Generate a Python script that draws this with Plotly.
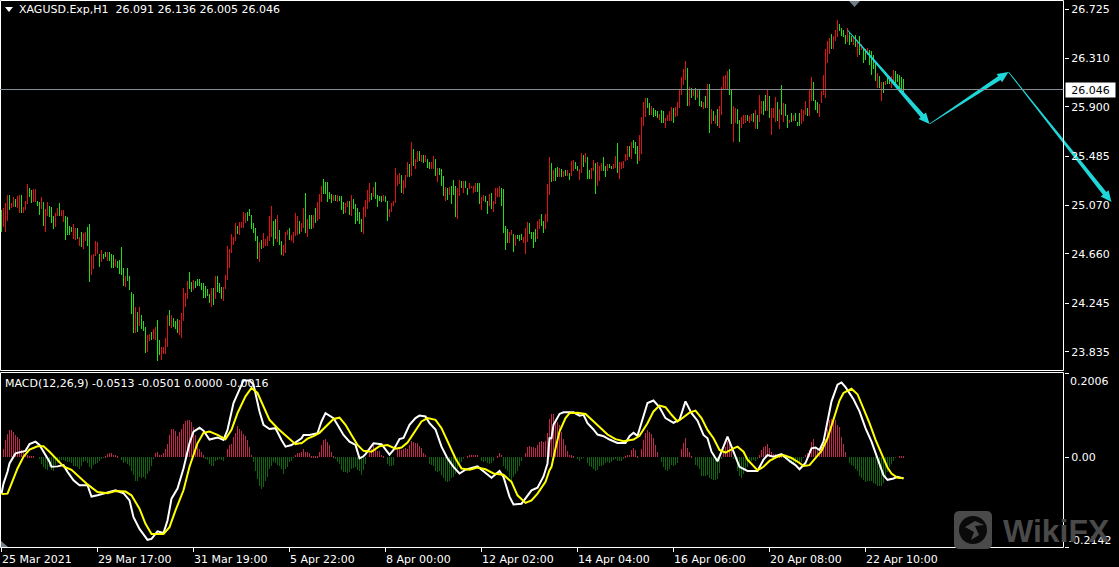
import numpy as np
import plotly.graph_objects as go

W, H = 1119, 567

# ---------- price bars (XAGUSD H1) ----------
HIGH = [
 25.02,25.04,25.08,25.15,25.15,25.08,25.13,25.12,25.14,25.15,25.15,25.05,25.10,25.24,25.21,25.19,25.20,25.20,25.10,25.09,25.13,25.09,25.03,25.09,25.06,25.05,24.97,25.00,25.04,25.08,25.02,25.02,24.97,24.96,24.89,24.88,24.90,24.87,24.87,24.79,24.84,24.83,24.84,24.88,24.90,24.64,24.65,24.76,24.75,24.65,24.68,24.65,24.67,24.67,24.67,24.65,24.64,24.61,24.59,24.60,24.71,24.53,24.46,24.53,24.46,
 24.33,24.31,24.20,24.16,24.20,24.13,24.08,24.03,23.96,23.97,23.99,24.01,24.03,24.09,23.92,23.86,23.86,23.94,24.13,24.17,24.13,24.11,24.08,24.10,24.09,24.15,24.36,24.32,24.42,24.50,24.41,24.43,24.42,24.44,24.44,24.40,24.40,24.38,24.35,24.31,24.36,24.36,24.46,24.46,24.40,24.37,24.37,24.47,24.72,24.69,24.82,24.79,24.91,24.89,24.92,24.92,25.01,25.00,25.01,25.03,24.98,24.91,24.87,24.80,24.75,24.77,24.83,24.78,24.80,24.97,25.06,24.93,24.95,24.98,24.85,24.76,24.73,24.84,24.85,24.87,24.81,24.84,25.00,24.97,24.93,24.91,25.04,25.17,24.95,24.98,24.98,24.98,25.04,25.09,25.16,25.23,25.29,25.26,25.26,25.18,25.16,25.15,25.15,25.15,25.14,25.14,25.09,25.08,25.10,25.10,25.15,25.12,25.07,25.04,25.01,24.95,25.05,25.11,25.19,25.25,25.17,25.22,25.26,25.15,25.14,25.14,25.15,25.14,25.10,25.03,
 25.08,25.10,25.38,25.32,25.34,25.32,25.28,25.32,25.43,25.41,25.60,25.54,25.46,25.52,25.52,25.49,25.49,25.49,25.46,25.43,25.43,25.48,25.46,25.38,25.38,25.37,25.31,25.22,25.21,25.22,25.23,25.28,25.23,25.21,25.28,25.27,25.27,25.27,25.21,25.25,25.23,25.23,25.25,25.25,25.25,25.13,25.15,25.14,25.10,25.16,25.17,25.10,25.21,25.21,25.23,25.21,25.20,24.89,24.86,24.84,24.85,24.82,24.81,24.81,24.81,
 24.82,24.79,24.87,24.92,24.91,24.84,24.84,24.86,24.93,24.95,24.99,24.93,24.99,25.24,25.47,25.42,25.36,25.38,25.39,25.38,25.37,25.35,25.36,25.36,25.34,25.44,25.45,25.43,25.40,25.37,25.51,25.49,25.51,25.47,25.36,25.38,25.45,25.42,25.43,25.40,25.42,25.47,25.40,25.41,25.41,25.40,25.41,25.48,25.59,25.43,25.43,25.44,25.50,25.57,25.57,25.60,25.62,25.60,25.57,25.66,25.81,25.94,
 25.97,25.97,25.93,25.91,25.89,25.87,25.86,25.84,25.87,25.86,25.80,25.83,25.86,25.90,25.89,25.90,25.94,26.04,26.15,26.22,26.29,26.23,26.07,26.06,26.05,26.06,26.04,26.05,25.95,25.94,25.99,26.09,26.09,25.88,25.86,25.83,25.88,25.91,26.07,26.16,26.17,26.20,26.22,26.05,25.91,25.89,25.88,25.79,25.81,25.83,25.83,25.83,25.82,25.84,25.85,25.87,25.83,26.00,25.95,25.95,26.00,26.04,25.99,25.89,25.89,
 25.98,25.94,25.88,26.08,25.93,25.92,25.83,25.79,25.85,25.83,25.85,25.77,25.85,25.88,25.87,25.95,25.89,26.05,26.15,26.11,25.96,25.94,25.92,26.03,26.17,26.39,26.46,26.48,26.52,26.50,26.55,26.64,26.60,26.57,26.55,26.51,26.57,26.53,26.50,26.49,26.51,26.47,26.50,26.43,26.40,26.39,26.40,26.38,26.37,26.34,26.29,26.19,26.16,26.11,26.11,26.12,26.16,26.15,26.16,26.21,26.20,26.18,26.17,26.15,26.136,
]
LOW = [
 24.84,24.88,24.84,24.93,25.02,25.04,25.05,25.05,25.04,25.00,25.00,25.00,25.02,25.07,25.13,25.08,25.09,25.09,25.06,24.98,25.03,24.89,24.84,24.97,24.96,24.91,24.86,24.88,24.97,24.97,24.97,24.92,24.77,24.81,24.81,24.84,24.78,24.77,24.78,24.72,24.71,24.69,24.76,24.72,24.41,24.47,24.52,24.63,24.65,24.54,24.58,24.61,24.62,24.59,24.59,24.53,24.53,24.54,24.53,24.48,24.47,24.38,24.37,24.42,24.34,
 24.14,23.98,23.98,23.99,24.04,24.01,24.00,23.81,23.82,23.91,23.92,23.93,23.92,23.74,23.79,23.75,23.80,23.80,23.86,24.04,24.02,24.03,24.01,23.98,23.96,23.94,24.08,24.20,24.27,24.35,24.33,24.34,24.36,24.38,24.38,24.34,24.28,24.28,24.29,24.23,24.20,24.22,24.27,24.33,24.32,24.27,24.25,24.35,24.43,24.53,24.66,24.73,24.76,24.82,24.81,24.87,24.87,24.91,24.93,24.97,24.86,24.83,24.76,24.61,24.58,24.69,24.70,24.72,24.72,24.76,24.79,24.72,24.78,24.75,24.73,24.64,24.63,24.66,24.81,24.77,24.76,24.74,24.80,24.81,24.82,24.84,24.87,24.83,24.79,24.86,24.86,24.87,24.91,24.93,24.95,25.09,25.16,25.16,25.09,25.12,25.08,25.10,25.10,25.09,25.10,25.02,24.99,25.00,25.05,24.98,24.97,25.03,24.90,24.93,24.90,24.84,24.82,24.96,25.03,25.09,25.11,25.13,25.12,25.05,25.10,25.09,25.10,25.09,24.93,24.96,
 25.01,25.06,25.08,25.23,25.24,25.17,25.16,25.21,25.30,25.30,25.31,25.40,25.37,25.43,25.44,25.43,25.42,25.43,25.38,25.37,25.37,25.37,25.31,25.26,25.32,25.23,25.14,25.10,25.11,25.15,25.07,25.15,24.96,24.95,25.14,25.21,25.17,25.21,25.15,25.20,25.21,25.17,25.18,25.18,25.07,25.02,25.10,25.09,24.99,25.06,25.03,25.01,25.07,25.13,25.13,25.06,24.83,24.68,24.74,24.74,24.81,24.67,24.72,24.78,24.76,
 24.77,24.74,24.65,24.75,24.82,24.78,24.70,24.75,24.78,24.86,24.89,24.83,24.86,24.92,25.15,25.26,25.27,25.27,25.30,25.30,25.30,25.30,25.31,25.31,25.28,25.31,25.35,25.37,25.35,25.28,25.34,25.39,25.42,25.29,25.29,25.29,25.35,25.16,25.23,25.27,25.35,25.35,25.30,25.35,25.38,25.37,25.37,25.38,25.34,25.29,25.37,25.38,25.44,25.45,25.47,25.46,25.55,25.50,25.41,25.44,25.50,25.74,
 25.81,25.885,25.83,25.83,25.81,25.82,25.80,25.79,25.76,25.76,25.72,25.78,25.78,25.78,25.76,25.81,25.82,25.885,26.00,26.08,26.13,25.91,25.91,25.97,25.99,25.96,25.97,25.91,25.90,25.88,25.89,25.89,25.68,25.75,25.78,25.75,25.74,25.72,25.83,26.04,26.04,26.04,26.00,25.75,25.60,25.76,25.75,25.60,25.72,25.75,25.76,25.78,25.76,25.78,25.77,25.71,25.71,25.77,25.84,25.83,25.86,25.86,25.80,25.66,25.80,
 25.77,25.78,25.71,25.83,25.77,25.82,25.72,25.76,25.77,25.78,25.78,25.74,25.74,25.75,25.78,25.83,25.82,25.82,25.95,25.95,25.87,25.85,25.81,25.93,26.00,25.97,26.27,26.35,26.39,26.39,26.46,26.49,26.54,26.50,26.49,26.43,26.45,26.42,26.45,26.42,26.41,26.32,26.34,26.38,26.27,26.30,26.34,26.25,26.17,26.22,26.12,26.06,26.06,25.95,26.02,26.08,26.09,26.09,26.06,26.12,26.08,26.11,26.06,26.03,26.005,
]
BAR_DIR = (
 "GRRRGRRGRRGRRRGGRRGGRGRRGGGRRGRRGGGGRRGRGRRGGRRRRGRGGRGGGRGGGGRGG"
 "GGRGRGGGRR" "GRRGGRRRRG" "RGGGRRRRRG" "GRGGGGGGGG" "RGRGGGRRRR" "RRRGRRRRGG" "GGGGRGRRRR"
 "RGGRGGRRRG" "RRRRGRRGRG" "GRGRRRGGGG" "GRGRGGGRRG" "RGGGGGRRRR" "GRGGGGRGGR"
 "RRRRRGRRRG" "RGRRGRGRGG" "RRGRGGGRGR" "GGGRRGRGGR" "RRRGGRRGGR" "GRRRRGGGGR" "RGRGG"
 "GRRRGGGGRR" "GGRRRGRGGR" "GRGRGRRGGR" "RGRGGRRGRR" "RGGRGGRRGR" "RRRRGRGGGR" "RR"
 "RGGRGGGRGG" "RRRRGRRRRR" "RGRGRGRGGR" "GRGRGRGRRR" "RRGGRRGGRR" "RGRRGRGRRG" "GRGRR"
 "RGRGRGGRGR" "GGGRRRGRRG" "GGRRRRRRGR" "RRGGGGRGGR" "GRGRGGRGGG" "GRGRGRGGRR" "GGGGG"
)

PRICE_TICKS = [26.725, 26.310, 25.900, 25.485, 25.070, 24.660, 24.245, 23.835]
LAST_PRICE = 26.046

# ---------- x axis ----------
X_TICK_BARS = [0, 48, 96, 144, 192, 240, 288, 336, 384, 432]
X_TICK_LABELS = ["25 Mar 2021", "29 Mar 17:00", "31 Mar 19:00", "5 Apr 22:00", "8 Apr 00:00",
                 "12 Apr 02:00", "14 Apr 04:00", "16 Apr 06:00", "20 Apr 08:00", "22 Apr 10:00"]

# ---------- MACD panel (values in thousandths) ----------
OSMA_MILLI = [
 0,19,40,56,65,65,61,53,48,44,16,12,8,4,2,2,1,0,0,-4,-16,-24,-29,-30,-24,-30,-34,-18,-14,-10,-6,-6,-8,-11,-12,-14,-20,-22,-24,-29,-22,-12,-8,-14,-24,-29,-18,-16,-14,-10,-5,-2,
 2,8,11,10,6,5,3,0,-6,-14,-12,-16,-22,-34,-42,-58,-58,-48,-50,-48,-53,-40,-32,-20,-4,
 10,12,6,5,10,19,32,52,68,67,62,50,60,68,80,86,88,88,84,72,53,32,20,12,4,
 -3,-6,-16,-22,-22,-10,-6,-4,-6,-10,0,
 20,28,32,48,58,74,68,62,56,50,40,24,6,
 -12,-32,-52,-68,-75,-72,-56,-48,-28,-20,-12,-13,-18,-20,-28,-40,-28,-24,-12,-8,-2,
 5,11,10,
 12,19,13,12,10,2,2,3,3,13,29,42,43,36,29,12,2,
 -5,-12,-16,-30,-35,-36,-37,-36,-29,-26,-24,-30,-34,-42,-30,-16,0,
 10,20,29,20,14,14,6,2,0,
 -16,-22,-22,-19,0,
 19,21,18,19,22,20,30,38,37,34,34,26,22,11,6,0,
 -16,-18,-20,-32,-36,-34,-42,-50,-58,-59,-58,-50,-48,-40,-28,-22,-12,-4,0,
 2,5,6,6,6,6,0,
 -8,-11,-10,-14,-16,-14,-10,0,
 3,10,6,
 -20,-28,-32,-48,-58,-48,-40,-32,-21,-10,0,
 10,24,26,24,24,21,29,36,38,35,38,58,92,
 103,104,92,84,76,60,44,28,14,6,4,2,0,
 -4,-8,-4,-2,0,-14,-20,-24,-29,-34,-30,-22,-20,-18,-14,-12,-14,-12,-6,-5,-8,-8,-10,-5,
 2,5,6,16,21,18,3,0,19,42,58,64,61,56,46,30,12,0,
 -12,-24,-30,-34,-29,-19,-22,-18,-13,0,
 19,34,46,22,12,3,0,
 -18,-22,-28,-44,-46,-46,-42,-50,-52,-54,-54,-53,-37,-4,
 14,24,38,40,24,-3,0,-32,-44,-50,-40,-29,-24,-8,-8,-6,-8,-4,
 4,18,24,27,32,22,13,8,8,6,3,2,
 -2,-4,-6,-14,-16,-14,-14,-11,-13,
 -12,-2,6,10,16,36,44,24,16,11,24,32,44,68,88,90,84,88,76,72,48,32,12,0,
 -14,-18,-22,-28,-34,-44,-50,-54,-60,-58,-58,-58,-61,-64,-68,-68,-68,-62,-48,-36,-24,-16,-8,-2,0,3,2,2,
]

MACD_BAR = [0,1,3,4,7,9,12,14,17,19,21,24,25,28,31,33,36,39,43,45,48,51,54,57,61,64,66,69,73,75,78,81,83,85,88,91,94,96,99,101,104,108,111,113,116,119,121,124,126,129,131,134,137,140,142,145,149,
 150,151,154,158,160,162,166,168,171,174,177,179,181,182,186,190,192,194,196,199,201,204,207,209,212,214,217,220,223,226,229,232,238,241,245,249,251,254,256,260,263,265,268,271,273,274,
 275,276,279,281,286,289,291,293,296,298,301,304,308,312,314,316,318,321,323,326,329,332,336,339,342,345,348,351,353,355,358,360,363,366,369,373,378,381,383,386,390,394,397,399,
 402,405,407,409,411,413,415,418,420,422,426,429,432,435,438,441,443,446,448,451]
MACD_MILLI = [-87,-63,-35,-15,9,12,15,31,37,29,13,-11,-23,-22,-19,-35,-55,-67,-67,-94,-91,-87,-82,-79,-86,-103,-143,-171,-197,-195,-177,-181,-151,-99,-75,-27,33,61,70,63,42,47,41,65,129,162,183,183,173,109,77,67,69,41,25,29,41,
 45,53,53,57,85,105,93,77,53,37,29,-3,2,7,33,31,19,6,17,43,46,77,93,99,97,81,66,25,-3,-23,-39,-30,-22,-34,-49,-33,-47,-94,-113,-111,-91,-79,-73,-46,-15,45,
 45,77,103,107,107,99,101,81,66,54,50,42,34,34,50,58,51,97,129,135,119,93,82,89,133,105,87,53,45,13,-10,13,49,13,-23,-33,-33,-6,5,1,7,-9,-19,-29,
 -14,21,23,17,37,85,133,173,178,167,138,109,69,37,-3,-43,-54,-51,-47,-51]

SIGNAL_BAR = [0,3,5,8,11,14,18,21,24,28,31,35,39,43,48,53,57,62,65,69,72,75,81,84,87,91,94,98,101,104,108,112,115,118,122,125,128,131,134,138,143,147,149,
 150,153,156,159,163,166,169,172,175,178,181,185,189,193,197,200,203,207,210,213,217,220,224,227,230,234,238,242,246,251,255,258,262,265,268,272,274,
 275,277,279,282,284,288,292,295,299,303,307,311,316,319,323,326,329,332,335,338,341,344,347,350,353,356,359,362,366,368,371,373,378,381,384,388,391,395,399,
 401,404,407,410,413,416,419,421,425,428,431,434,437,440,443,445,448,451]
SIGNAL_MILLI = [-88,-87,-63,-27,1,18,26,26,13,-7,-22,-30,-47,-65,-83,-86,-81,-82,-91,-123,-159,-183,-183,-167,-127,-79,-23,33,58,61,53,43,65,105,145,165,153,121,89,69,47,31,33,
 33,44,50,58,77,91,94,77,53,29,15,13,26,29,20,23,35,65,85,93,89,69,29,-3,-27,-30,-25,-29,-39,-42,-59,-91,-109,-103,-87,-59,-31,
 -23,21,61,93,105,106,103,90,71,54,43,38,42,51,81,109,123,119,101,85,95,106,111,93,65,45,17,11,21,25,13,-6,-31,-23,-9,1,5,-2,-14,
 -21,-19,-3,15,45,93,135,153,163,150,117,81,42,9,-25,-39,-49,-50]

MACD_TICK_VALUES = [0.2006, 0.0, -0.2142]

# ---------- forecast arrows: (bar position, price) ----------
ARROW_BAR = [423, 464, 503.5, 555]
ARROW_PRICE = [26.547, 25.749, 26.19, 25.087]

# ---------- colours ----------
GREEN, RED = "#1fe010", "#e01212"
OSMA_UP, OSMA_DN = "#c4274c", "#0d660d"
CYAN = "#1fd6d8"
GRAY_LINE = "#868e96"
FONT = "DejaVu Sans"

# ---------- scale of the panes ----------
PX_PER_BAR = 2.0
READ_SCALE = 117.8     # px per unit used while reading the values off the crops
PX_PER_UNIT = 118.6    # px per unit implied by the printed price labels
def calibrate(p):
    return 26.725 - (26.725 - np.asarray(p, dtype=float)) * READ_SCALE / PX_PER_UNIT
def price_at(py):
    return 26.725 - (py - 9) / PX_PER_UNIT
def fx(px):
    return px / W
def fy(py):
    return 1 - py / H

bars = np.arange(len(HIGH))
high, low = calibrate(HIGH), calibrate(LOW)
arrow_price = calibrate(ARROW_PRICE)
assert len(BAR_DIR) == len(HIGH), (len(BAR_DIR), len(HIGH))
bar_colors = [GREEN if c == "G" else RED for c in BAR_DIR]
osma = np.array(OSMA_MILLI) / 1000.0
osma_x = np.arange(len(osma))
osma_colors = [OSMA_UP if v >= 0 else OSMA_DN for v in osma]

fig = go.Figure()
fig.add_trace(go.Bar(x=bars, y=high - low, base=low, width=0.4, xaxis="x", yaxis="y",
                     marker=dict(color=bar_colors, line=dict(width=0)), name="XAGUSD.Exp,H1", showlegend=False))
fig.add_trace(go.Bar(x=osma_x, y=osma, width=0.4, xaxis="x", yaxis="y2",
                     marker=dict(color=osma_colors, line=dict(width=0)), name="OsMA", showlegend=False))
fig.add_trace(go.Scatter(x=MACD_BAR, y=np.array(MACD_MILLI) / 1000.0, mode="lines", xaxis="x", yaxis="y2",
                         line=dict(color="#ffffff", width=2), name="MACD", showlegend=False))
fig.add_trace(go.Scatter(x=SIGNAL_BAR, y=np.array(SIGNAL_MILLI) / 1000.0, mode="lines", xaxis="x", yaxis="y2",
                         line=dict(color="#ffff00", width=2), name="Signal", showlegend=False))

def arrow_outline(b0, p0, b1, p1, shaft=2.2, head_w=5.0, head_l=11.0):
    x0, y0 = b0 * PX_PER_BAR, p0 * PX_PER_UNIT
    x1, y1 = b1 * PX_PER_BAR, p1 * PX_PER_UNIT
    L = np.hypot(x1 - x0, y1 - y0)
    ux, uy = (x1 - x0) / L, (y1 - y0) / L
    nx, ny = -uy, ux
    def pt(along, off):
        return ((x0 + ux * along + nx * off) / PX_PER_BAR, (y0 + uy * along + ny * off) / PX_PER_UNIT)
    pts = [pt(0, 0.4), pt(L - head_l, shaft), pt(L - head_l, head_w), pt(L, 0),
           pt(L - head_l, -head_w), pt(L - head_l, -shaft), pt(0, -0.4), pt(0, 0.4)]
    return [p[0] for p in pts], [p[1] for p in pts]

for k in range(len(ARROW_BAR) - 1):
    ax, ay = arrow_outline(ARROW_BAR[k], arrow_price[k], ARROW_BAR[k + 1], arrow_price[k + 1])
    fig.add_trace(go.Scatter(x=ax, y=ay, mode="lines", fill="toself", fillcolor=CYAN, xaxis="x", yaxis="y",
                             line=dict(color=CYAN, width=0), hoverinfo="skip", showlegend=False))

def frame(x0, y0, x1, y1):
    return dict(type="rect", xref="paper", yref="paper", x0=fx(x0), x1=fx(x1), y0=fy(y1), y1=fy(y0),
                line=dict(color="#ffffff", width=1), fillcolor="rgba(0,0,0,0)", layer="above")

def poly(pts, color):
    path = "M" + " L".join(f"{fx(a):.5f},{fy(b):.5f}" for a, b in pts) + " Z"
    return dict(type="path", xref="paper", yref="paper", path=path, fillcolor=color,
                line=dict(width=0), layer="above")

# rounded square and emblem of the watermark
def rounded(x0, y0, x1, y1, r, color):
    k = 8
    pts = []
    for cx, cy, a0 in [(x1 - r, y0 + r, -90), (x1 - r, y1 - r, 0), (x0 + r, y1 - r, 90), (x0 + r, y0 + r, 180)]:
        for t in np.linspace(a0, a0 + 90, k):
            pts.append((cx + r * np.cos(np.radians(t)), cy + r * np.sin(np.radians(t))))
    return poly(pts, color)

shapes = [
    frame(0.5, 0.5, 1063.5, 370.5),
    frame(0.5, 372.5, 1063.5, 547.5),
    dict(type="line", xref="paper", yref="y", x0=fx(0), x1=fx(1063.5), y0=LAST_PRICE, y1=LAST_PRICE,
         line=dict(color=GRAY_LINE, width=1), layer="above"),
    poly([(5, 7), (13, 7), (9, 12)], "#ffffff"),
    poly([(849, 1), (860, 1), (854.5, 7)], "#6f7c88"),
    poly([(1, 541), (8, 547), (1, 547)], "#76838f"),
    rounded(954, 511, 992, 549, 5, "#4a4a4a"),
    dict(type="circle", xref="paper", yref="paper", x0=fx(959), x1=fx(987), y0=fy(544), y1=fy(516),
         fillcolor="#0a0a0a", line=dict(width=0), layer="above"),
    poly([(965, 527), (975, 521), (984, 525), (975, 526), (979, 535), (971, 540), (974, 532)], "#4a4a4a"),
]

label_font = dict(family=FONT, size=11, color="#ffffff")
annotations = [
    dict(xref="paper", yref="paper", x=fx(17), y=fy(9.5), xanchor="left", yanchor="middle", showarrow=False,
         text="XAGUSD.Exp,H1&nbsp;&nbsp;26.091 26.136 26.005 26.046", font=label_font),
    dict(xref="paper", yref="paper", x=fx(3), y=fy(383), xanchor="left", yanchor="middle", showarrow=False,
         text="MACD(12,26,9) -0.0513 -0.0501 0.0000 -0.0016", font=label_font),
    dict(xref="paper", yref="y", x=fx(1065), y=LAST_PRICE, xanchor="left", yanchor="middle", showarrow=False,
         text=f"{LAST_PRICE:.3f}", font=dict(family=FONT, size=11, color="#000000"),
         bgcolor="#ffffff", width=49, height=14, borderpad=0, align="center"),
    dict(xref="paper", yref="y2", x=fx(1067.5), y=MACD_TICK_VALUES[0], yshift=-8, xanchor="left", yanchor="middle",
         showarrow=False, text=f"{MACD_TICK_VALUES[0]:.4f}", font=label_font),
    dict(xref="paper", yref="y2", x=fx(1066.5), y=MACD_TICK_VALUES[2], yshift=7, xanchor="left", yanchor="middle",
         showarrow=False, text=f"{MACD_TICK_VALUES[2]:.4f}", font=label_font),
    dict(xref="paper", yref="paper", x=fx(1000.5), y=fy(531), xanchor="left", yanchor="middle", showarrow=False,
         text="<b>WikiFX</b>", font=dict(family="Liberation Sans", size=32, color="#4a4a4a")),
]

fig.update_layout(
    width=W, height=H, margin=dict(l=0, r=0, t=0, b=0), autosize=False,
    paper_bgcolor="#000000", plot_bgcolor="#000000", showlegend=False, barmode="overlay", bargap=0,
    font=dict(family=FONT, size=11, color="#ffffff"),
    xaxis=dict(domain=[0, 1], range=[-0.75, 558.75], anchor="y2", showgrid=False, zeroline=False,
               tickmode="array", tickvals=X_TICK_BARS, ticktext=X_TICK_LABELS, ticks="outside", ticklen=4,
               tickcolor="#ffffff", tickwidth=1, ticklabelposition="outside right", ticklabelstandoff=2,
               tickfont=label_font, showline=False, tickangle=0),
    yaxis=dict(domain=[fy(370.5), fy(0.5)], range=[price_at(370.5), price_at(0.5)], anchor="free",
               position=fx(1064), side="right",
               showgrid=False, zeroline=False, tickmode="array", tickvals=PRICE_TICKS,
               ticktext=[f"{v:.3f}" for v in PRICE_TICKS], ticks="outside", ticklen=4, tickcolor="#ffffff",
               tickfont=label_font, showline=False),
    yaxis2=dict(domain=[fy(547), fy(373)], range=[MACD_TICK_VALUES[2], MACD_TICK_VALUES[0]], anchor="free",
                position=fx(1064), side="right",
                showgrid=False, zeroline=False, tickmode="array", tickvals=MACD_TICK_VALUES,
                ticktext=["", "0.00", ""], ticks="outside", ticklen=4, tickcolor="#ffffff",
                tickfont=label_font, showline=False),
    shapes=shapes, annotations=annotations,
)

fig.write_html("out.html", config={"displayModeBar": False},
               post_script="document.body.style.margin='0';document.body.style.background='#000';")
